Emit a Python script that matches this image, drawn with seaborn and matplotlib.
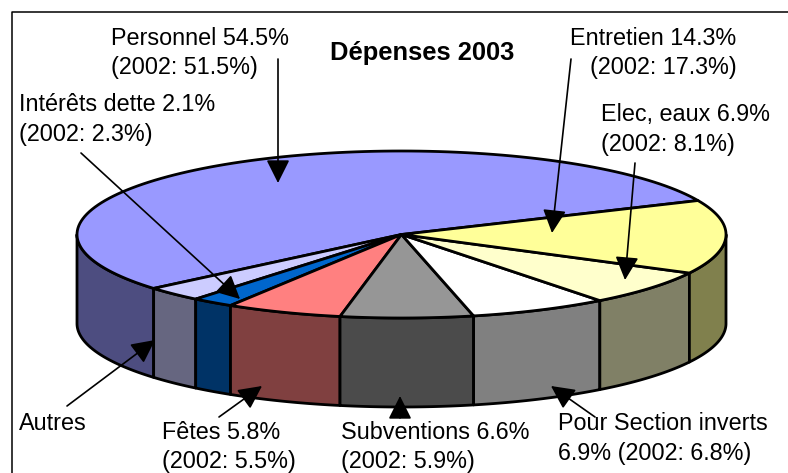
import numpy as np
import matplotlib.pyplot as plt
import seaborn as sns

# postes de depenses, dans l'ordre du camembert (sens trigo depuis le bord droit)
postes = ['Personnel', 'Autres', 'Intérêts dette', 'Fêtes', 'Subventions',
          'Pour Section inverts', 'Elec, eaux', 'Entretien']
pct_2003 = [54.5, 2.9, 2.1, 5.8, 6.6, 6.9, 6.9, 14.3]
couleurs = ['#9999FF', '#CCCCFF', '#0066CC', '#FF8080', '#969696',
            '#FFFFFF', '#FFFFCC', '#FFFF99']

titre = 'Dépenses 2003'
textes = ['Personnel 54.5%', '(2002: 51.5%)',
          'Intérêts dette 2.1%', '(2002: 2.3%)',
          'Entretien 14.3%', '(2002: 17.3%)',
          'Elec, eaux 6.9%', '(2002: 8.1%)',
          'Autres',
          'Fêtes 5.8%', '(2002: 5.5%)',
          'Subventions 6.6%', '(2002: 5.9%)',
          'Pour Section inverts', '6.9% (2002: 6.8%)']
textes_x = [111, 111, 19, 19, 570, 590, 601, 601, 19, 162, 162, 341, 341, 558, 558]
textes_y = [45, 74, 111, 141, 45, 74, 121, 151, 430, 439, 468, 439, 468, 430, 460]

# fleches : depart, pointe
fleches = [((278, 59), (278, 183)), ((81, 153), (240, 299)), ((571, 59), (552, 233)),
           ((635, 163), (625, 280)), ((67, 406), (155, 340)), ((219, 417), (262, 386)),
           ((400, 418), (400, 396)), ((595, 417), (551, 386))]

sns.set_theme(style='white')
plt.rcParams['font.family'] = ['Liberation Sans', 'DejaVu Sans']

cx, cy, rx, ry, prof = 401.5, 234.5, 324.5, 83.5, 89
debut = 24.0  # bord droit de Personnel, en degres


def bord(a1, a2):
    t = np.radians(np.linspace(a1, a2, 120))
    return cx + rx * np.cos(t), cy - ry * np.sin(t)


fig = plt.figure(figsize=(7.88, 4.73), dpi=100)
ax = fig.add_axes([0, 0, 1, 1])
ax.set_xlim(0, 788)
ax.set_ylim(473, 0)
ax.axis('off')

ax.plot([12, 12, 788], [473, 12, 12], color='black', lw=1.1)

palette = sns.color_palette(couleurs)
bornes = debut + np.cumsum([0] + pct_2003) * 3.6

for a1, a2, c in zip(bornes[:-1], bornes[1:], palette):
    x, y = bord(a1, a2)
    ax.fill(np.r_[cx, x], np.r_[cy, y], fc=c, ec='black', lw=2, joinstyle='round', zorder=3)
    # flanc visible : uniquement la moitie basse de l'ellipse
    b1, b2 = max(a1, 180), min(a2, 360)
    if b2 > b1:
        x, y = bord(b1, b2)
        flanc = tuple(v * 0.5 for v in c)
        ax.fill(np.r_[x, x[::-1]], np.r_[y, y[::-1] + prof], fc=flanc, ec='black',
                lw=2, joinstyle='round', zorder=2)

for deb, fin in fleches:
    ax.annotate('', xy=fin, xytext=deb, zorder=5,
                arrowprops=dict(arrowstyle='-|>,head_length=14.4,head_width=7.2',
                                mutation_scale=1, shrinkA=0, shrinkB=0,
                                color='black', lw=1.2))

for t, x, y in zip(textes, textes_x, textes_y):
    ax.text(x, y, t, fontsize=16.8, color='black', ha='left', va='baseline', zorder=6)
ax.text(330, 60, titre, fontsize=18.4, fontweight='bold', color='black',
        ha='left', va='baseline', zorder=6)

fig.savefig('out.png', dpi=100)
